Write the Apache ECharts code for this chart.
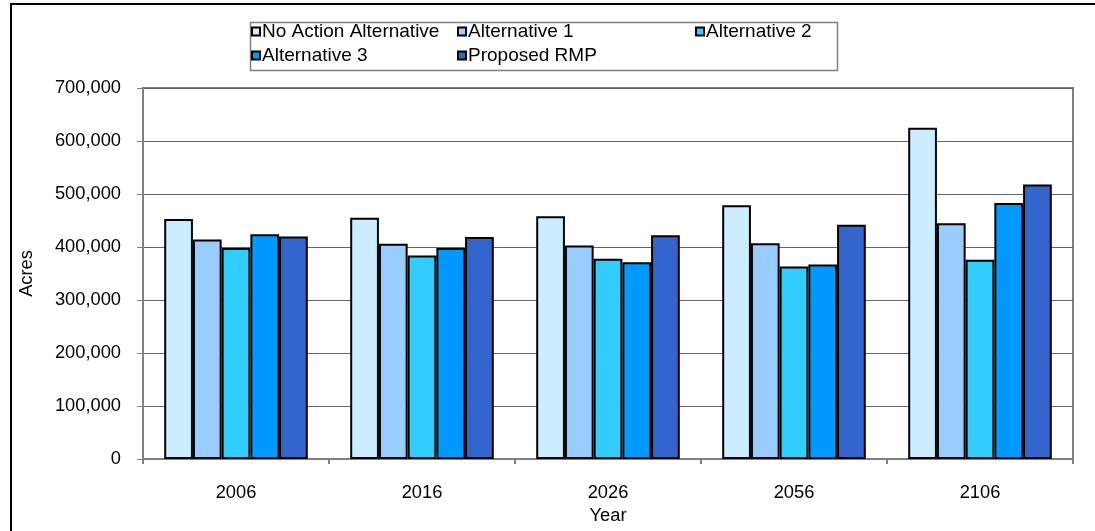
<!DOCTYPE html>
<html>
<head>
<meta charset="utf-8">
<script src="https://cdn.jsdelivr.net/npm/echarts@6/dist/echarts.min.js"></script>
<style>
  html, body { margin: 0; padding: 0; background: #fff; }
  #chart { width: 1095px; height: 531px; }
</style>
</head>
<body>
<div id="chart"></div>
<script>
// Acres by year for each management alternative
const years = ['2006', '2016', '2026', '2056', '2106'];
const seriesNames = ['No Action Alternative', 'Alternative 1', 'Alternative 2', 'Alternative 3', 'Proposed RMP'];
const noAction = [453000, 455000, 458000, 479000, 625000];
const alt1 = [414000, 406000, 403000, 407000, 445000];
const alt2 = [398000, 384000, 378000, 363000, 376000];
const alt3 = [424000, 398000, 371000, 367000, 483000];
const proposedRmp = [420000, 419000, 422000, 442000, 518000];
const yTicks = [0, 100000, 200000, 300000, 400000, 500000, 600000, 700000];

const seriesData = [noAction, alt1, alt2, alt3, proposedRmp];
const colors = ['#CCECFF', '#99CCFF', '#33CCFF', '#0099FF', '#3366CC'];

const FONT = 'Liberation Sans, Arial, sans-serif';
const FS = 18.3;      // axis text
const LEGEND_FS = 19; // legend text

// legend placement: three columns, two rows
const legendPos = [
  { left: 251, top: 22 },
  { left: 457, top: 22 },
  { left: 695, top: 22 },
  { left: 251, top: 46 },
  { left: 457, top: 46 }
];

const chart = echarts.init(document.getElementById('chart'), null, { renderer: 'canvas' });

chart.setOption({
  animation: false,
  backgroundColor: '#fff',
  grid: {
    left: 143, right: 22, top: 88, bottom: 72,
    show: true, borderColor: '#808080', borderWidth: 2, backgroundColor: 'transparent'
  },
  legend: seriesNames.map((n, i) => ({
    data: [n],
    left: legendPos[i].left,
    top: legendPos[i].top,
    itemWidth: 8, itemHeight: 8, itemGap: 0,
    padding: 0,
    icon: 'rect',
    textStyle: { fontFamily: FONT, fontSize: LEGEND_FS, color: '#000', padding: [0, 0, 0, -3] }
  })),
  graphic: [
    {
      type: 'rect', silent: true, z: -1,
      shape: { x: 11, y: 4, width: 1200, height: 700 },
      style: { fill: 'none', stroke: '#000', lineWidth: 2 }
    },
    {
      type: 'rect', silent: true, z: -1,
      shape: { x: 250.5, y: 22.5, width: 587, height: 48 },
      style: { fill: '#fff', stroke: '#808080', lineWidth: 1.5 }
    }
  ],
  xAxis: {
    type: 'category',
    data: years,
    name: 'Year',
    nameLocation: 'middle',
    nameGap: 46,
    nameTextStyle: { fontFamily: FONT, fontSize: FS, color: '#000' },
    axisLine: { lineStyle: { color: '#808080', width: 2 } },
    axisTick: { show: true, length: 5, lineStyle: { color: '#808080', width: 2 } },
    axisLabel: { fontFamily: FONT, fontSize: FS, color: '#000', margin: 25 }
  },
  yAxis: {
    type: 'value',
    min: 0, max: 700000, interval: 100000,
    name: 'Acres',
    nameLocation: 'middle',
    nameGap: 107,
    nameTextStyle: { fontFamily: FONT, fontSize: FS, color: '#000' },
    axisLine: { show: true, lineStyle: { color: '#808080', width: 2 } },
    axisTick: { show: true, length: 6, lineStyle: { color: '#808080', width: 1 } },
    axisLabel: {
      fontFamily: FONT, fontSize: FS, color: '#000', margin: 22,
      formatter: v => yTicks.includes(v) ? v.toLocaleString('en-US') : ''
    },
    splitLine: { lineStyle: { color: '#666', width: 1 } }
  },
  series: seriesNames.map((n, i) => ({
    name: n,
    type: 'bar',
    data: seriesData[i],
    barGap: '0%',
    barCategoryGap: '22.8%',
    itemStyle: { color: colors[i], borderColor: '#000', borderWidth: 2 }
  }))
});
</script>
</body>
</html>
